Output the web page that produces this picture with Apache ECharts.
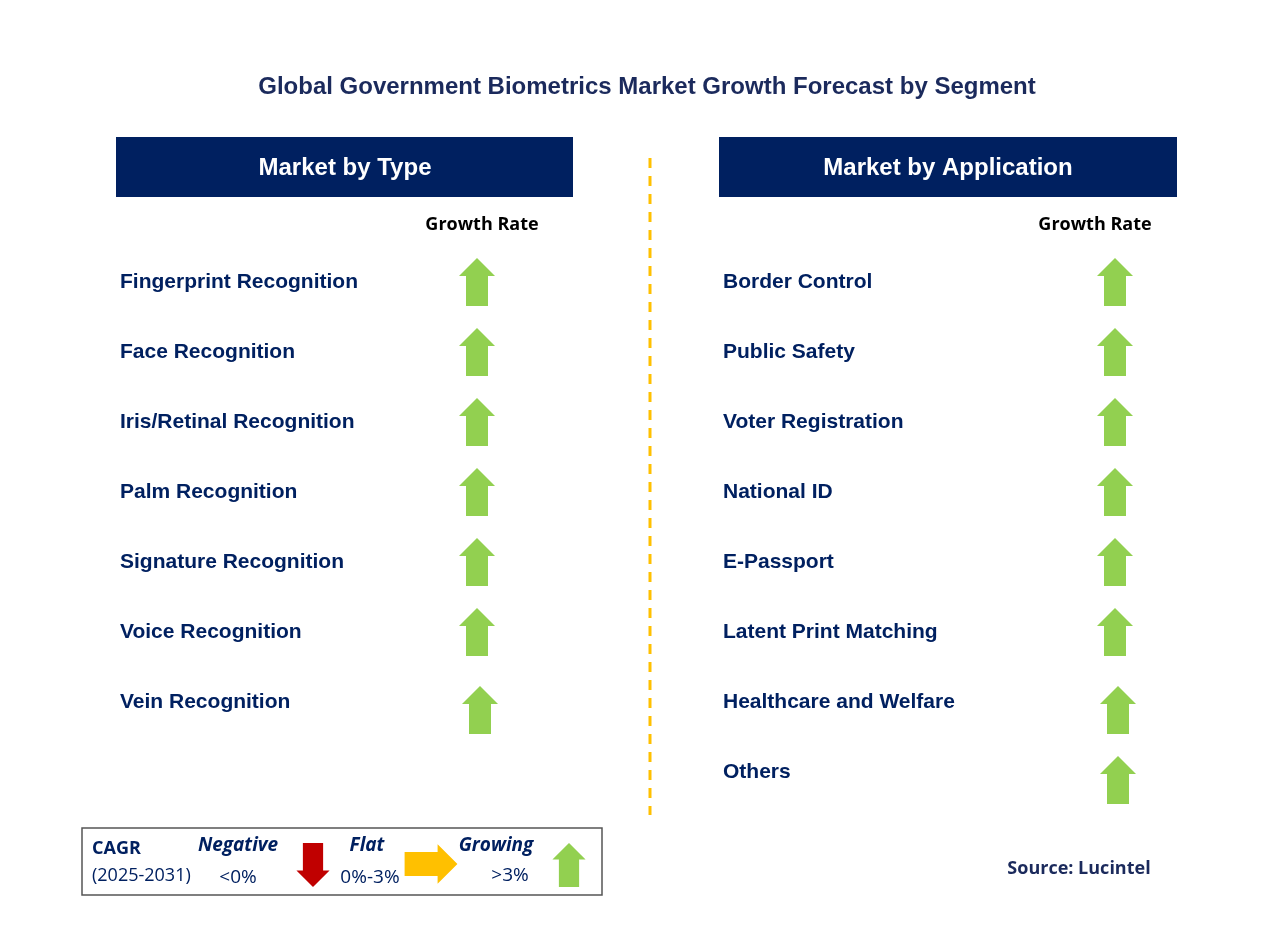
<!DOCTYPE html>
<html>
<head>
<meta charset="utf-8">
<script src="https://cdn.jsdelivr.net/npm/echarts@6/dist/echarts.min.js"></script>
<style>body{margin:0;background:#fff}</style>
</head>
<body>
<div id="main" style="width:1273px;height:932px;"></div>
<script>
var chart = echarts.init(document.getElementById('main'));

// segment names and their growth trend
var typeNames = ['Fingerprint Recognition', 'Face Recognition', 'Iris/Retinal Recognition',
  'Palm Recognition', 'Signature Recognition', 'Voice Recognition', 'Vein Recognition'];
var typeTrend = ['up', 'up', 'up', 'up', 'up', 'up', 'up'];
var appNames = ['Border Control', 'Public Safety', 'Voter Registration', 'National ID',
  'E-Passport', 'Latent Print Matching', 'Healthcare and Welfare', 'Others'];
var appTrend = ['up', 'up', 'up', 'up', 'up', 'up', 'up', 'up'];

var NAVY = '#002060', GREEN = '#92D050', RED = '#C00000', YEL = '#FFC000';

function arrow(cx, cy, dir, color, s) {
  s = s || 1;
  var w = 18 * s, sw = 11 * s, h = 24 * s, hh = 18 * s;
  var pts;
  if (dir === 'up') pts = [[0, -h], [w, -h + hh], [sw, -h + hh], [sw, h], [-sw, h], [-sw, -h + hh], [-w, -h + hh]];
  else if (dir === 'down') pts = [[0, h], [w, h - hh], [sw, h - hh], [sw, -h], [-sw, -h], [-sw, h - hh], [-w, h - hh]];
  else pts = [[h, 0], [h - hh, -w], [h - hh, -sw], [-h, -sw], [-h, sw], [h - hh, sw], [h - hh, w]];
  return { type: 'polygon', x: cx, y: cy, shape: { points: pts }, style: { fill: color } };
}
function txt(x, y, t, o) {
  return { type: 'text', x: x, y: y, style: Object.assign({ text: t, fill: NAVY, fontFamily: 'Arial',
    fontWeight: 'bold', fontSize: 21, textVerticalAlign: 'middle' }, o || {}) };
}

var g = [];
g.push(txt(647, 87, 'Global Government Biometrics Market Growth Forecast by Segment', { fontSize: 24, textAlign: 'center', fill: '#1B2A5C' }));
g.push({ type: 'rect', shape: { x: 116, y: 137, width: 457, height: 60 }, style: { fill: NAVY } });
g.push({ type: 'rect', shape: { x: 719, y: 137, width: 458, height: 60 }, style: { fill: NAVY } });
g.push(txt(345, 168, 'Market by Type', { fill: '#fff', fontSize: 24, textAlign: 'center' }));
g.push(txt(948, 168, 'Market by Application', { fill: '#fff', fontSize: 24, textAlign: 'center' }));
g.push({ type: 'line', shape: { x1: 650, y1: 158, x2: 650, y2: 815 }, style: { stroke: YEL, lineWidth: 3, lineDash: [10, 8] } });
g.push(txt(482, 225, 'Growth Rate', { fill: '#000', fontSize: 18, textAlign: 'center', fontFamily: 'Open Sans' }));
g.push(txt(1095, 225, 'Growth Rate', { fill: '#000', fontSize: 18, textAlign: 'center', fontFamily: 'Open Sans' }));

typeNames.forEach(function (n, i) {
  var y = 282 + 70 * i;
  g.push(txt(120, y, n));
  g.push(arrow(i === 6 ? 480 : 477, i === 6 ? y + 8 : y, typeTrend[i], GREEN));
});
appNames.forEach(function (n, i) {
  var y = 282 + 70 * i;
  g.push(txt(723, y, n));
  g.push(arrow(i >= 6 ? 1118 : 1115, i >= 6 ? y + 8 : y, appTrend[i], GREEN));
});

// legend box
g.push({ type: 'rect', shape: { x: 82, y: 828, width: 520, height: 67 }, style: { fill: '#fff', stroke: '#555', lineWidth: 1.5 } });
var lf = { fontFamily: 'Open Sans', fontSize: 19 };
g.push(txt(92, 849, 'CAGR', Object.assign({}, lf, { fontWeight: 'bold', fontSize: 18 })));
g.push(txt(92, 876, '(2025-2031)', Object.assign({}, lf, { fontWeight: 'normal', fontSize: 18 })));
g.push(txt(238, 846, 'Negative', Object.assign({}, lf, { fontStyle: 'italic', textAlign: 'center' })));
g.push(txt(238, 878, '<0%', Object.assign({}, lf, { fontWeight: 'normal', textAlign: 'center' })));
g.push(arrow(313, 865, 'down', RED, 0.92));
g.push(txt(367, 846, 'Flat', Object.assign({}, lf, { fontStyle: 'italic', textAlign: 'center' })));
g.push(txt(370, 878, '0%-3%', Object.assign({}, lf, { fontWeight: 'normal', textAlign: 'center' })));
g.push(arrow(431, 864, 'right', YEL, 1.1));
g.push(txt(496, 846, 'Growing', Object.assign({}, lf, { fontStyle: 'italic', textAlign: 'center' })));
g.push(txt(510, 876, '>3%', Object.assign({}, lf, { fontWeight: 'normal', textAlign: 'center' })));
g.push(arrow(569, 865, 'up', GREEN, 0.92));

g.push(txt(1079, 869, 'Source: Lucintel', { fill: '#1B2A5C', fontSize: 18, fontFamily: 'Open Sans', textAlign: 'center' }));

chart.setOption({ backgroundColor: '#fff', graphic: g });
</script>
</body>
</html>
